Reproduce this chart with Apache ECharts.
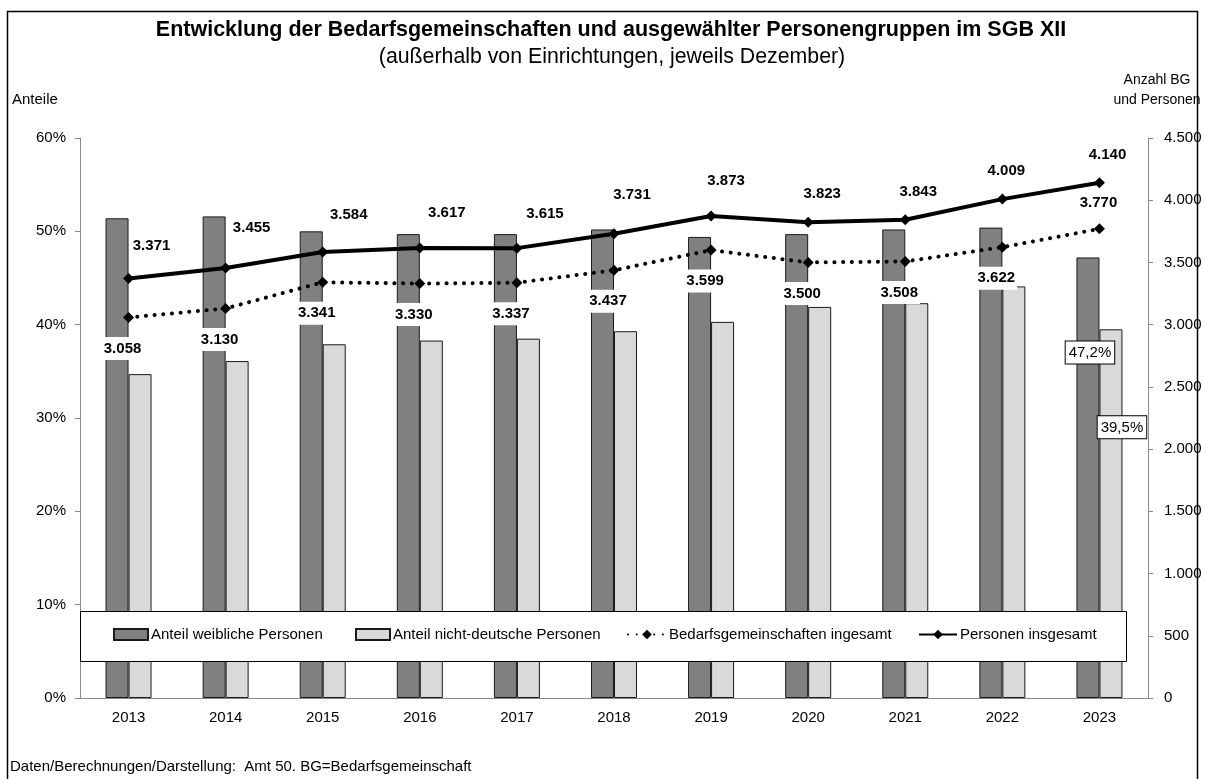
<!DOCTYPE html>
<html>
<head>
<meta charset="utf-8">
<title>SGB XII Bedarfsgemeinschaften</title>
<script src="https://cdn.jsdelivr.net/npm/echarts@6/dist/echarts.min.js"></script>
<style>
  html, body { margin: 0; padding: 0; background: #fff; }
  #chart { width: 1205px; height: 779px; }
</style>
</head>
<body>
<div id="chart"></div>
<script>
// data
const years = ['2013', '2014', '2015', '2016', '2017', '2018', '2019', '2020', '2021', '2022', '2023']
const shareFemale = [51.4, 51.6, 50.0, 49.7, 49.7, 50.2, 49.4, 49.7, 50.2, 50.4, 47.2]
const shareNonGerman = [34.7, 36.1, 37.9, 38.3, 38.5, 39.3, 40.3, 41.9, 42.3, 44.1, 39.5]
const bgTotal = [3058, 3130, 3341, 3330, 3337, 3437, 3599, 3500, 3508, 3622, 3770]
const personsTotal = [3371, 3455, 3584, 3617, 3615, 3731, 3873, 3823, 3843, 4009, 4140]

// label nudges (pixels) for the "Personen" values, as placed in the original
const personLabelDx = [23, 26, 26, 27, 28, 18, 15, 14, 13, 4, 8]
const personLabelDy = [-29, -36, -33, -31, -30, -35, -31, -24, -24, -24, -24]

const FONT = '"Liberation Sans", Arial, sans-serif'
const AXIS_GREY = '#898989'
const last = years.length - 1

function thousands(v) {
  return String(v).replace(/\B(?=(\d{3})+(?!\d))/g, '.')
}

function pct(v) {
  return v.toFixed(1).replace('.', ',') + '%'
}

const boxLabel = {
  show: true,
  position: 'insideTop',
  formatter: p => pct(p.value),
  fontSize: 15,
  color: '#000',
  backgroundColor: '#fff',
  borderColor: '#000',
  borderWidth: 1,
  padding: [4, 3, 3, 3]
}

const femaleData = shareFemale.map((v, i) =>
  i === last ? { value: v, label: Object.assign({}, boxLabel, { offset: [2, 79] }) } : v)
const nonGermanData = shareNonGerman.map((v, i) =>
  i === last ? { value: v, label: Object.assign({}, boxLabel, { offset: [11, 82] }) } : v)

const personsData = personsTotal.map((v, i) => ({
  value: v,
  label: { offset: [personLabelDx[i], personLabelDy[i] + 9] }
}))

const bgData = bgTotal.map((v, i) =>
  i === last
    ? { value: v, label: { position: 'top', distance: 9, offset: [-1, 0] } }
    : v)

const chart = echarts.init(document.getElementById('chart'), null, { renderer: 'canvas' })

const legendBase = {
  top: 627,
  padding: 0,
  itemGap: 0,
  selectedMode: false,
  textStyle: { fontSize: 15, color: '#000', fontFamily: FONT, padding: [0, 0, 0, -2] }
}

const option = {
  animation: false,
  backgroundColor: '#fff',
  textStyle: { fontFamily: FONT },
  title: [
    {
      text: 'Entwicklung der Bedarfsgemeinschaften und ausgewählter Personengruppen im SGB XII',
      left: 611,
      top: 18,
      textAlign: 'center',
      padding: 0,
      textStyle: { fontSize: 21.5, fontWeight: 'bold', color: '#000', lineHeight: 25, fontFamily: FONT }
    },
    {
      text: '(außerhalb von Einrichtungen, jeweils Dezember)',
      left: 612,
      top: 45,
      textAlign: 'center',
      padding: 0,
      textStyle: { fontSize: 21.3, fontWeight: 'normal', color: '#000', lineHeight: 25, fontFamily: FONT }
    }
  ],
  legend: [
    Object.assign({}, legendBase, { left: 113, data: [{ name: 'Anteil weibliche Personen', icon: 'rect' }], itemWidth: 34, itemHeight: 11 }),
    Object.assign({}, legendBase, { left: 355, data: [{ name: 'Anteil nicht-deutsche Personen', icon: 'rect' }], itemWidth: 34, itemHeight: 11 }),
    Object.assign({}, legendBase, { left: 627, data: ['Bedarfsgemeinschaften ingesamt'], itemWidth: 38, itemHeight: 12 }),
    Object.assign({}, legendBase, { left: 918, data: ['Personen insgesamt'], itemWidth: 38, itemHeight: 12 })
  ],
  graphic: [
    {
      type: 'rect',
      silent: true,
      z: 0,
      shape: { x: 7.5, y: 11.5, width: 1190, height: 800 },
      style: { fill: 'none', stroke: '#000', lineWidth: 1.5 }
    },
    {
      type: 'rect',
      silent: true,
      z: 3,
      shape: { x: 80.5, y: 611.5, width: 1046, height: 50 },
      style: { fill: '#fff', stroke: '#000', lineWidth: 1 }
    },
    {
      type: 'text',
      silent: true,
      x: 12, y: 100,
      style: { text: 'Anteile', font: '15px ' + FONT, fill: '#000', verticalAlign: 'middle' }
    },
    {
      type: 'text',
      silent: true,
      x: 1157, y: 80,
      style: { text: 'Anzahl BG', font: '14px ' + FONT, fill: '#000', align: 'center', verticalAlign: 'middle' }
    },
    {
      type: 'text',
      silent: true,
      x: 1157, y: 100,
      style: { text: 'und Personen', font: '14px ' + FONT, fill: '#000', align: 'center', verticalAlign: 'middle' }
    },
    {
      type: 'text',
      silent: true,
      x: 10, y: 767,
      style: { text: 'Daten/Berechnungen/Darstellung:  Amt 50. BG=Bedarfsgemeinschaft', font: '15px ' + FONT, fill: '#000', verticalAlign: 'middle' }
    }
  ],
  grid: { left: 80, right: 57, top: 138, bottom: 81 },
  xAxis: {
    type: 'category',
    data: years,
    axisLine: { lineStyle: { color: AXIS_GREY, width: 1 } },
    axisTick: { show: false },
    axisLabel: { fontSize: 15, color: '#000', margin: 12 },
    splitLine: { show: false }
  },
  yAxis: [
    {
      type: 'value',
      min: 0,
      max: 60,
      interval: 10,
      position: 'left',
      axisLine: { show: true, lineStyle: { color: AXIS_GREY, width: 1 } },
      axisTick: { show: true, length: 5, lineStyle: { color: AXIS_GREY } },
      axisLabel: { fontSize: 15, color: '#000', margin: 14, formatter: '{value}%' },
      splitLine: { show: false }
    },
    {
      type: 'value',
      min: 0,
      max: 4500,
      interval: 500,
      position: 'right',
      axisLine: { show: true, lineStyle: { color: AXIS_GREY, width: 1 } },
      axisTick: { show: true, length: 5, lineStyle: { color: AXIS_GREY } },
      axisLabel: { fontSize: 15, color: '#000', margin: 16, formatter: v => thousands(v) },
      splitLine: { show: false }
    }
  ],
  series: [
    {
      name: 'Anteil weibliche Personen',
      type: 'bar',
      yAxisIndex: 0,
      barWidth: 23,
      barGap: '0%',
      itemStyle: { color: '#808080', borderColor: '#1a1a1a', borderWidth: 1 },
      data: femaleData
    },
    {
      name: 'Anteil nicht-deutsche Personen',
      type: 'bar',
      yAxisIndex: 0,
      barWidth: 23,
      barGap: '0%',
      itemStyle: { color: '#d9d9d9', borderColor: '#1a1a1a', borderWidth: 1 },
      data: nonGermanData
    },
    {
      name: 'Bedarfsgemeinschaften ingesamt',
      type: 'line',
      yAxisIndex: 1,
      z: 5,
      symbol: 'diamond',
      symbolSize: 11,
      itemStyle: { color: '#000' },
      lineStyle: { color: '#000', width: 4, type: [0.1, 8.6], cap: 'round' },
      label: {
        show: true,
        position: 'bottom',
        distance: 14,
        offset: [-6, 0],
        formatter: p => thousands(p.value),
        fontSize: 15,
        fontWeight: 'bold',
        color: '#000',
        backgroundColor: '#fff',
        padding: [4, 2, 4, 2]
      },
      data: bgData
    },
    {
      name: 'Personen insgesamt',
      type: 'line',
      yAxisIndex: 1,
      z: 5,
      symbol: 'diamond',
      symbolSize: 11,
      itemStyle: { color: '#000' },
      lineStyle: { color: '#000', width: 4 },
      label: {
        show: true,
        position: 'top',
        distance: 0,
        formatter: p => thousands(p.value),
        fontSize: 15,
        fontWeight: 'bold',
        color: '#000'
      },
      data: personsData
    }
  ]
}

chart.setOption(option)
</script>
</body>
</html>
